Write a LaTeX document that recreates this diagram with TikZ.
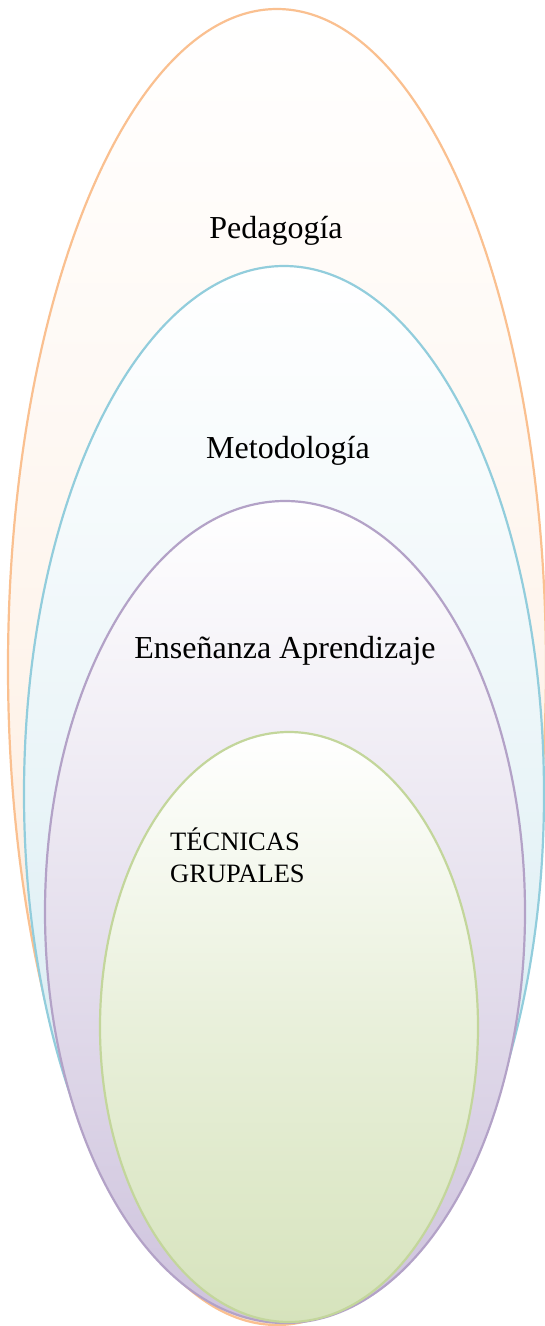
\documentclass[tikz,border=0pt]{standalone}
\usepackage{fontspec}
\setmainfont{Liberation Serif}
\definecolor{orS}{HTML}{FAC090}
\definecolor{orF}{HTML}{FCE4D0}
\definecolor{blS}{HTML}{92CDDC}
\definecolor{blF}{HTML}{CFE7EF}
\definecolor{puS}{HTML}{B3A2C7}
\definecolor{puF}{HTML}{CEC3DD}
\definecolor{grS}{HTML}{C3D69B}
\definecolor{grF}{HTML}{D6E3BC}
\tikzset{
  ring/.style={line width=2.2pt},
  lbl/.style={inner sep=0pt, anchor=base, text=black, font=\fontsize{32}{38}\selectfont},
  lblsmall/.style={inner sep=0pt, text=black, anchor=base west, font=\fontsize{26.5}{32}\selectfont}
}
\begin{document}
\begin{tikzpicture}[x=1pt,y=-1pt]
\useasboundingbox (0,0) rectangle (545,1326);
\draw[ring, draw=orS, top color=white, bottom color=orF, middle color=orF!40] (277,667) ellipse [x radius=269, y radius=658];
\draw[ring, draw=blS, top color=white, bottom color=blF, middle color=blF!45] (284,794) ellipse [x radius=260, y radius=528];
\draw[ring, draw=puS, top color=white, bottom color=puF, middle color=puF!50] (285,912) ellipse [x radius=240, y radius=411];
\draw[ring, draw=grS, top color=white, bottom color=grF, middle color=grF!55] (289,1027) ellipse [x radius=189, y radius=295];
\node[lbl] (ped) at (276,238) {Pedagogía};
\node[lbl] (met) at (288,458) {Metodología};
\node[lbl] (ens) at (285,658) {Enseñanza Aprendizaje};
\node[lblsmall] (tec1) at (170,850) {TÉCNICAS};
\node[lblsmall] (tec2) at (170,882) {GRUPALES};
\end{tikzpicture}
\end{document}
